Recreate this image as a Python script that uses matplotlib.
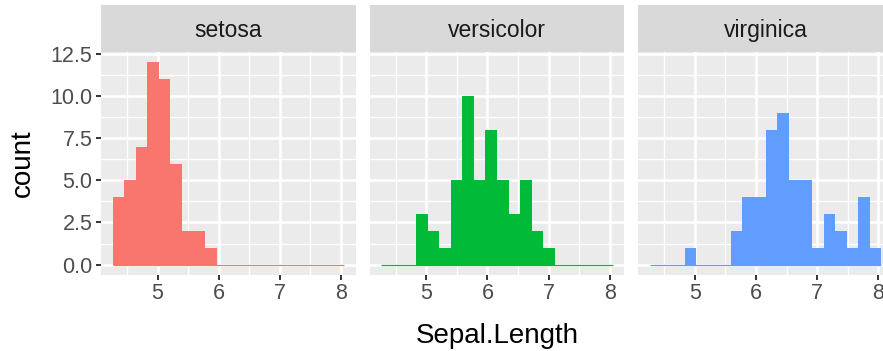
import numpy as np
import matplotlib
matplotlib.use("Agg")
import matplotlib.pyplot as plt

# ---- data (iris Sepal.Length histogram, 20 bins, counts per species) ----
species = ["setosa", "versicolor", "virginica"]
colors = ["#F8766D", "#00BA38", "#619CFF"]
n_bins = 20
x_min, x_max = 4.3, 7.9
setosa_counts = [4, 5, 7, 12, 11, 6, 2, 2, 1, 0, 0, 0, 0, 0, 0, 0, 0, 0, 0, 0]
versicolor_counts = [0, 0, 0, 3, 2, 1, 5, 10, 5, 8, 5, 3, 5, 2, 1, 0, 0, 0, 0, 0]
virginica_counts = [0, 0, 0, 1, 0, 0, 0, 2, 4, 4, 8, 9, 5, 5, 1, 3, 2, 1, 4, 1]
counts = [setosa_counts, versicolor_counts, virginica_counts]
x_ticks = [5, 6, 7, 8]
x_minor = [4.5, 5.5, 6.5, 7.5]
y_ticks = [0.0, 2.5, 5.0, 7.5, 10.0, 12.5]
y_minor = [1.25, 3.75, 6.25, 8.75, 11.25]

# ggplot-style bin breaks
width = (x_max - x_min) / (n_bins - 1)
boundary = width / 2
origin = boundary + np.floor((x_min - boundary) / width) * width
edges = origin + np.arange(n_bins + 1) * width

plt.rcParams['font.family'] = ['Liberation Sans', 'DejaVu Sans']

W, H = 883, 351
fig = plt.figure(figsize=(W / 100, H / 100), dpi=100)

panel_lefts = [101.0, 369.7, 638.3]
panel_w = 254.7
panel_top, panel_bot = 52.3, 274.7
strip_top = 5.0

xr = edges[-1] - edges[0]
xlim = (edges[0] - 0.05 * xr, edges[-1] + 0.05 * xr)
ymax = max(max(c) for c in counts)
ylim = (-0.05 * ymax, ymax * 1.05)

for i, (sp, col, cnt) in enumerate(zip(species, colors, counts)):
    left = panel_lefts[i] / W
    ax = fig.add_axes([left, 1 - panel_bot / H, panel_w / W, (panel_bot - panel_top) / H])
    ax.set_facecolor('#EBEBEB')
    for s in ax.spines.values():
        s.set_visible(False)
    ax.set_xlim(*xlim)
    ax.set_ylim(*ylim)
    ax.set_xticks(x_ticks)
    ax.set_xticks(x_minor, minor=True)
    ax.set_yticks(y_ticks)
    ax.set_yticks(y_minor, minor=True)
    ax.grid(which='major', color='white', linewidth=1.9)
    ax.grid(which='minor', color='white', linewidth=0.95)
    ax.set_axisbelow(True)
    ax.hlines(0, edges[0], edges[-1], color=col, linewidth=0.9, zorder=2)
    ax.bar(edges[:-1], cnt, width=width, align='edge', color=col, linewidth=0, zorder=3)
    ax.tick_params(which='minor', length=0)
    ax.tick_params(which='major', length=3.8, width=1.4, color='#333333',
                   labelcolor='#4D4D4D', labelsize=15.5, pad=2.5)
    ax.set_xticklabels([str(t) for t in x_ticks])
    if i == 0:
        ax.set_yticklabels([f"{t:.1f}" for t in y_ticks])
    else:
        ax.tick_params(axis='y', which='both', length=0, labelleft=False)

    sax = fig.add_axes([left, 1 - panel_top / H, panel_w / W, (panel_top - strip_top) / H])
    sax.set_facecolor('#D9D9D9')
    sax.set_xticks([])
    sax.set_yticks([])
    for s in sax.spines.values():
        s.set_visible(False)
    fig.text((panel_lefts[i] + panel_w / 2) / W, 1 - 36.8 / H, sp, ha='center', va='baseline',
             fontsize=16.5, color='#1A1A1A')

fig.text(497 / W, 1 - 343.3 / H, 'Sepal.Length', ha='center', va='baseline',
         fontsize=20, color='black')
fig.text(29.5 / W, 1 - 163 / H, 'count', ha='center', va='baseline', rotation=90,
         rotation_mode='anchor', fontsize=20, color='black')

fig.savefig('out.png', dpi=100)
